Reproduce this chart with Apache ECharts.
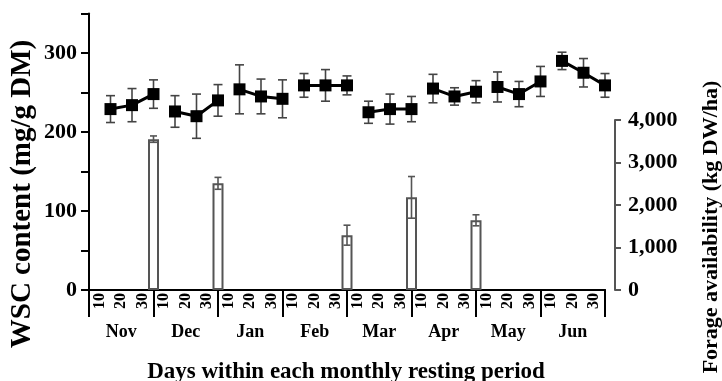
<!DOCTYPE html>
<html><head><meta charset="utf-8">
<script src="https://cdn.jsdelivr.net/npm/echarts@6/dist/echarts.min.js"></script>
<style>html,body{margin:0;padding:0;background:#fff}#c{width:722px;height:381px}</style>
</head><body><div id="c"></div>
<script>
const months = ['Nov','Dec','Jan','Feb','Mar','Apr','May','Jun'];
const days = ['10','20','30'];
const wscMean = [229,234,248, 226,220,240, 254,245,242, 259,259,259, 225,229,229, 255,245,251, 257,248,264, 290,275,259];
const wscErr  = [17,21,18, 20,28,20, 31,22,24, 15,20,12, 14,19,16, 18,11,14, 19,16,19, 11,18,15];
const forageMonths = ['Nov','Dec','Feb','Mar','Apr'];
const forageDays = ['30','30','30','30','30'];
const forageMean = [3550,2510,1290,2180,1640];
const forageErr  = [75,140,235,490,130];
const leftTicks = [0,100,200,300];
const rightTicks = [0,1000,2000,3000,4000];

const FONT = "'Liberation Serif','Times New Roman',serif";
const dayCats = [];
months.forEach(m => days.forEach(d => dayCats.push(d)));
function pos(m, d){ return months.indexOf(m)*3 + days.indexOf(d) + 1; }

const lineSeries = months.map((m, mi) => ({
  type:'line', xAxisIndex:2, yAxisIndex:0, z:5,
  data: days.map((d, di) => [pos(m,d), wscMean[mi*3+di]]),
  symbol:'rect', symbolSize:12, itemStyle:{color:'#000'},
  lineStyle:{color:'#000', width:3}, silent:true
}));

function errRender(capHalf, color){
  return function(params, api){
    const x = api.value(0), lo = api.value(1), hi = api.value(2);
    const pLo = api.coord([x, lo]), pHi = api.coord([x, hi]);
    const st = {stroke:color, lineWidth:1.6, fill:null};
    return {type:'group', children:[
      {type:'line', shape:{x1:pLo[0],y1:pLo[1],x2:pHi[0],y2:pHi[1]}, style:st},
      {type:'line', shape:{x1:pLo[0]-capHalf,y1:pLo[1],x2:pLo[0]+capHalf,y2:pLo[1]}, style:st},
      {type:'line', shape:{x1:pHi[0]-capHalf,y1:pHi[1],x2:pHi[0]+capHalf,y2:pHi[1]}, style:st}
    ]};
  };
}

const labelStyle = {fontFamily:FONT, fontWeight:'bold', color:'#000'};

const option = {
  animation:false,
  backgroundColor:'#fff',
  grid:[
    {left:89, right:117, top:13.5, bottom:91, containLabel:false, outerBoundsMode:'none'},
    {left:89, right:117, top:120, bottom:91, containLabel:false, outerBoundsMode:'none'}
  ],
  xAxis:[
    {type:'category', gridIndex:0, position:'bottom', data:dayCats, boundaryGap:true,
     axisLine:{onZero:false, lineStyle:{color:'#000', width:2}},
     axisTick:{interval:0, length:5, lineStyle:{color:'#000', width:2}},
     axisLabel:Object.assign({interval:0, rotate:90, margin:3, fontSize:16}, labelStyle),
     splitLine:{show:false}},
    {type:'category', gridIndex:0, position:'bottom', offset:0, data:months, boundaryGap:true,
     axisLine:{show:true, onZero:false, lineStyle:{color:'#000', width:2}},
     axisTick:{show:true, interval:0, length:27, lineStyle:{color:'#000', width:2}},
     axisLabel:Object.assign({interval:0, margin:33, fontSize:18}, labelStyle),
     splitLine:{show:false}},
    {type:'value', gridIndex:0, min:0, max:24, show:false, axisLine:{onZero:false}},
    {type:'value', gridIndex:1, min:0, max:24, show:false, axisLine:{onZero:false}}
  ],
  yAxis:[
    {type:'value', gridIndex:0, position:'left', min:0, max:350, interval:50,
     axisLine:{show:true, onZero:false, lineStyle:{color:'#000', width:2}},
     axisTick:{show:true, length:8, lineStyle:{color:'#000', width:2}},
     axisLabel:Object.assign({margin:12, fontSize:22,
       formatter: v => leftTicks.includes(v) ? String(v) : ''}, labelStyle),
     splitLine:{show:false}},
    {type:'value', gridIndex:1, position:'right', offset:10, min:0, max:4000, interval:1000,
     axisLine:{show:true, onZero:false, lineStyle:{color:'#555', width:2}},
     axisTick:{show:true, length:6, lineStyle:{color:'#555', width:2}},
     axisLabel:Object.assign({margin:13, fontSize:22,
       formatter: v => rightTicks.includes(v) ? v.toLocaleString('en-US') : ''}, labelStyle),
     splitLine:{show:false}}
  ],
  series:[
    {type:'bar', xAxisIndex:3, yAxisIndex:1, barWidth:11, z:2,
     data: forageMonths.map((m,i) => [pos(m, forageDays[i]), forageMean[i]]),
     itemStyle:{color:'#fff', borderColor:'#555', borderWidth:2}},
    {type:'custom', xAxisIndex:3, yAxisIndex:1, z:3,
     renderItem: errRender(3.5, '#555'),
     data: forageMonths.map((m,i) => [pos(m, forageDays[i]), forageMean[i]-forageErr[i], forageMean[i]+forageErr[i]])},
    {type:'custom', xAxisIndex:2, yAxisIndex:0, z:3,
     renderItem: errRender(4.5, '#444'),
     data: wscMean.map((v,i) => [i+1, v-wscErr[i], v+wscErr[i]])}
  ].concat(lineSeries),
  graphic:[
    {type:'text', x:23, y:194, rotation:Math.PI/2,
     style:{text:'WSC content (mg/g DM)', font:"bold 29px 'Liberation Serif'", align:'center', verticalAlign:'middle', fill:'#000'}},
    {type:'text', x:711, y:227, rotation:Math.PI/2,
     style:{text:'Forage availability (kg DW/ha)', font:"bold 22px 'Liberation Serif'", align:'center', verticalAlign:'middle', fill:'#000'}},
    {type:'text', x:346, y:372,
     style:{text:'Days within each monthly resting period', font:"bold 23px 'Liberation Serif'", align:'center', verticalAlign:'middle', fill:'#000'}}
  ]
};
const chart = echarts.init(document.getElementById('c'), null, {renderer:'canvas'});
chart.setOption(option);
</script>
</body></html>
